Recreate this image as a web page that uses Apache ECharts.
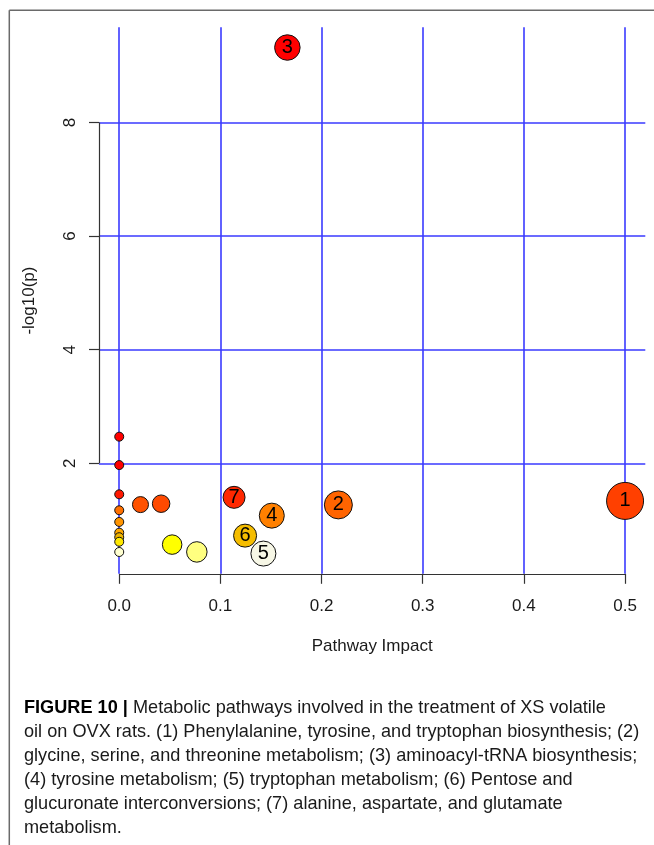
<!DOCTYPE html>
<html><head><meta charset="utf-8">
<script src="https://cdn.jsdelivr.net/npm/echarts@6/dist/echarts.min.js"></script>
<style>html,body{margin:0;padding:0;background:#fff}#c{width:654px;height:845px}</style>
</head><body><div id="c"></div>
<script>
// ---- data ----
const pointLabels = ['', '', '', '', '', '', '', '', '', '', '', '', '', '7', '6', '5', '4', '2', '1', '3'];
const impact = [0, 0, 0, 0, 0, 0, 0, 0, 0, 0.021, 0.0414, 0.0523, 0.0767, 0.1135, 0.1244, 0.1425, 0.1508, 0.2166, 0.5, 0.1662];
const logP   = [2.47, 1.97, 1.455, 1.174, 0.969, 0.78, 0.70, 0.62, 0.44, 1.274, 1.29, 0.57, 0.441, 1.402, 0.728, 0.412, 1.08, 1.269, 1.339, 9.32];
const xTicks = [0, 0.1, 0.2, 0.3, 0.4, 0.5];
const yTicks = [2, 4, 6, 8];
const xAxisTitle = 'Pathway Impact';
const yAxisTitle = '-log10(p)';
const captionLines = [
  '{b|FIGURE 10 |} Metabolic pathways involved in the treatment of XS volatile',
  'oil on OVX rats. (1) Phenylalanine, tyrosine, and tryptophan biosynthesis; (2)',
  'glycine, serine, and threonine metabolism; (3) aminoacyl-tRNA biosynthesis;',
  '(4) tyrosine metabolism; (5) tryptophan metabolism; (6) Pentose and',
  'glucuronate interconversions; (7) alanine, aspartate, and glutamate',
  'metabolism.'
];

// ---- styles ----
const pointSizes  = [9, 9, 9, 9, 9, 9, 9, 9, 9, 16, 17.5, 19.5, 20.5, 22, 23, 25, 25, 28, 37, 25.5];
const pointColors = ['#ff0000', '#ff0000', '#ff1800', '#ff7000', '#ff9400', '#ffa800', '#eeb400', '#ffe800', '#ffffd0',
  '#ff5200', '#ff4a00', '#ffff00', '#ffff80', '#ff2800', '#f5bd00', '#f7f7e6', '#ff8000', '#ff6400', '#ff4000', '#ff0000'];

const xMin = -0.02, xMax = 0.52, yMin = 0.056, yMax = 9.676;
const FONT = 'Liberation Sans';

const chart = echarts.init(document.getElementById('c'), null, {renderer: 'canvas'});

const scatterData = impact.map((x, i) => ({
  value: [x, logP[i]],
  symbolSize: pointSizes[i],
  itemStyle: {color: pointColors[i], borderColor: '#111', borderWidth: 1, opacity: 1},
  label: {show: pointLabels[i] !== '', formatter: pointLabels[i]}
}));

const captionGraphics = captionLines.map((t, i) => ({
  type: 'text',
  x: 0, y: i * 24,
  style: {
    text: t,
    fontFamily: FONT, fontSize: 19,
    fill: '#1a1a1a',
    textVerticalAlign: 'middle',
    rich: {b: {fontWeight: 'bold', fontFamily: FONT, fontSize: 19, fill: '#000'}}
  }
}));

chart.setOption({
  animation: false,
  backgroundColor: '#fff',
  grid: {left: 99, right: 8.7, top: 27.3, bottom: 271.2, containLabel: false},
  xAxis: {
    type: 'value', min: xMin, max: xMax,
    axisLine: {show: false},
    axisTick: {show: true, inside: false, length: 10, lineStyle: {color: '#333', width: 1.2}, customValues: xTicks},
    axisLabel: {customValues: xTicks, formatter: v => v.toFixed(1), fontSize: 17, fontFamily: FONT, color: '#1a1a1a', margin: 24},
    splitLine: {show: true, lineStyle: {color: '#3a3aff', width: 1.6}},
    name: xAxisTitle, nameLocation: 'middle', nameGap: 64,
    nameTextStyle: {fontSize: 17, fontFamily: FONT, color: '#1a1a1a'}
  },
  yAxis: {
    type: 'value', min: yMin, max: yMax, position: 'left',
    axisLine: {show: false, onZero: false},
    axisTick: {show: true, inside: true, length: -10, lineStyle: {color: '#333', width: 1.2}, customValues: yTicks},
    axisLabel: {customValues: yTicks, rotate: 90, fontSize: 17, fontFamily: FONT, color: '#1a1a1a', margin: 20},
    splitLine: {show: true, lineStyle: {color: '#3a3aff', width: 1.6}},
    name: yAxisTitle, nameLocation: 'middle', nameGap: 61, nameRotate: 90,
    nameTextStyle: {fontSize: 17, fontFamily: FONT, color: '#1a1a1a'}
  },
  series: [{
    type: 'scatter',
    data: scatterData,
    clip: false,
    label: {position: 'inside', color: '#000', fontSize: 20, fontFamily: FONT},
    markLine: {
      silent: true, symbol: 'none', animation: false,
      lineStyle: {color: '#333', width: 1.2, type: 'solid'},
      label: {show: false},
      data: [
        [{coord: [xTicks[0], yMin]}, {coord: [xTicks[xTicks.length - 1], yMin]}],
        [{coord: [xMin, yTicks[0]]}, {coord: [xMin, yTicks[yTicks.length - 1]]}]
      ]
    }
  }],
  graphic: [
    {type: 'line', shape: {x1: 9.3, y1: 10.3, x2: 654, y2: 10.3}, style: {stroke: '#6a6a6a', lineWidth: 1.5}},
    {type: 'line', shape: {x1: 9.3, y1: 10.3, x2: 9.3, y2: 845}, style: {stroke: '#6a6a6a', lineWidth: 1.5}},
    {type: 'group', x: 24, y: 708, scaleX: 0.955, children: captionGraphics}
  ]
});
</script>
</body></html>
